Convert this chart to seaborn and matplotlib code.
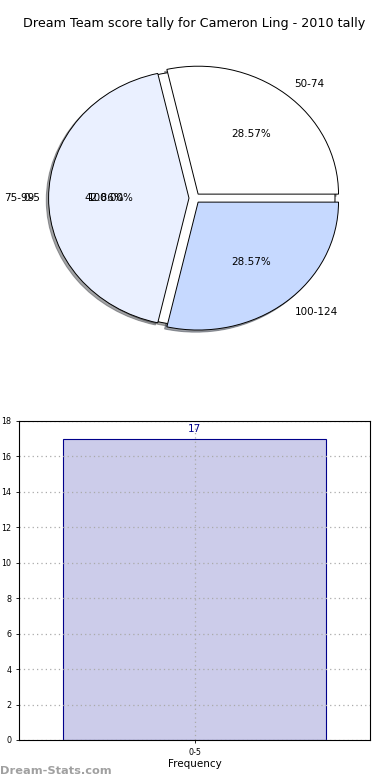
import matplotlib
matplotlib.use("Agg")
import matplotlib.pyplot as plt
import seaborn as sns

# dados do gráfico
faixas_pizza = ["50-74", "75-99", "100-124"]
valores_pizza = [2, 3, 2]
cores_pizza = ["#ffffff", "#eaf0ff", "#c6d9ff"]

faixas_freq = ["0-5"]
valores_freq = [17]
yticks = list(range(0, 19, 2))

titulo = "Dream Team score tally for Cameron Ling - 2010 tally"

sns.set_style("white")
plt.rcParams["font.family"] = ["DejaVu Sans"]
plt.rcParams["text.color"] = "black"
plt.rcParams["axes.labelcolor"] = "black"
plt.rcParams["xtick.color"] = "black"
plt.rcParams["ytick.color"] = "black"

fig = plt.figure(figsize=(3.9, 7.8), dpi=100)

# pizza (a de cima)
ax1 = fig.add_axes([0.049, 0.541, 0.9, 0.41])
wp = dict(edgecolor="black", linewidth=0.7)
ax1.pie(valores_freq, labels=faixas_freq, colors=["#ffffff"], autopct="%1.2f%%",
        shadow=dict(ox=-0.012, oy=-0.012), wedgeprops=wp, textprops=dict(fontsize=7.5))
ax1.pie(valores_pizza, labels=faixas_pizza, colors=cores_pizza, autopct="%1.2f%%",
        explode=[0.04] * len(valores_pizza), shadow=dict(ox=-0.012, oy=-0.012),
        wedgeprops=wp, textprops=dict(fontsize=7.5))
ax1.set_aspect("auto")
ax1.set_xlim(-1.25, 1.25)
ax1.set_ylim(-1.25, 1.25)
ax1.set_title(titulo, fontsize=9.2, pad=8)

# barras (a de baixo)
ax2 = fig.add_axes([0.049, 0.0513, 0.9, 0.409])
sns.barplot(x=faixas_freq, y=valores_freq, color="#ccccea", edgecolor="#00008b",
            linewidth=0.8, saturation=1, width=0.75, ax=ax2)
for i, v in enumerate(valores_freq):
    ax2.text(i, v + 0.25, str(v), ha="center", va="bottom", color="#00008b", fontsize=7.5)
ax2.set_ylim(0, 18)
ax2.set_xlim(-0.5, 0.5)
ax2.set_yticks(yticks)
ax2.grid(True, color="#aaaaaa", linestyle=(0, (1, 2.5)), linewidth=0.9)
ax2.set_axisbelow(False)
ax2.tick_params(axis="both", labelsize=5.8, length=2, width=0.6, direction="out", left=True, bottom=True)
for s in ax2.spines.values():
    s.set_linewidth(0.8)
    s.set_color("black")
    s.set_zorder(5)
ax2.set_xlabel("Frequency", fontsize=7.5, labelpad=2)
ax2.set_ylabel("Score Tally", fontsize=7.5, labelpad=2)

fig.text(0.0, 0.005, "Dream-Stats.com", color="#a0a0a0", fontsize=8.2, fontweight="bold",
         ha="left", va="bottom")

fig.savefig("out.png", dpi=100)
